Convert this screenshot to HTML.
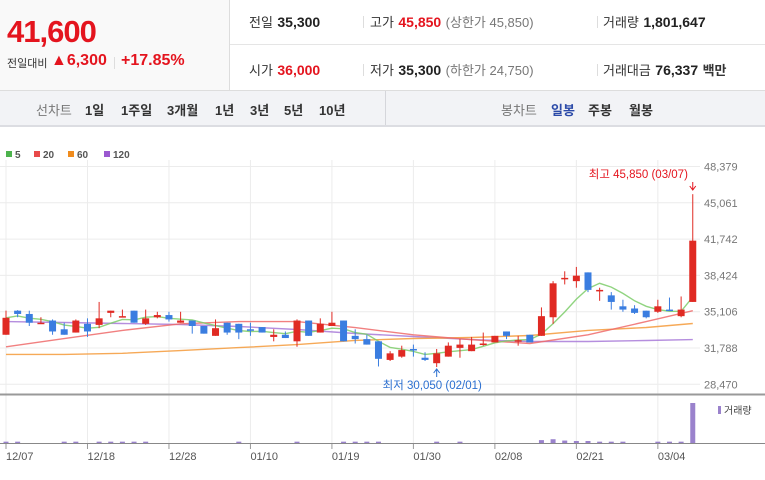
<!DOCTYPE html>
<html><head><meta charset="utf-8">
<style>
body{margin:0;width:765px;height:480px;overflow:hidden;background:#fff;font-family:"Liberation Sans","Noto Sans CJK KR",sans-serif;position:relative}
.a{position:absolute;white-space:nowrap}
.lb{color:#333;font-size:13px}
.v{color:#222;font-size:14px;font-weight:bold}
.r{color:#e4141e}
.g{color:#777;font-size:13px}
.sep{position:absolute;width:1px;height:12px;background:#ddd}
.nav{font-size:13px;color:#333;font-weight:bold}
</style></head><body>
<div class="a" style="left:0;top:0;width:229px;height:90px;background:#f9f9f9;border-right:1px solid #ddd;border-bottom:1px solid #ddd"></div>
<div class="a r" style="left:7px;top:14px;font-size:31px;font-weight:bold;letter-spacing:-1px">41,600</div>
<div class="a" style="left:7px;top:55px;font-size:11px;color:#333">전일대비</div>
<div class="a r" style="left:51px;top:52px;font-size:16px;font-weight:bold">▲6,300</div>
<div class="sep" style="left:114px;top:57px"></div>
<div class="a r" style="left:121px;top:52px;font-size:16px;font-weight:bold">+17.85%</div>
<div class="a" style="left:230px;top:44px;width:535px;height:1px;background:#e5e5e5"></div>
<div class="a" style="left:230px;top:90px;width:535px;height:1px;background:#ddd"></div>

<div class="a" style="left:249px;top:12px"><span class="lb">전일</span> <span class="v">35,300</span></div>
<div class="sep" style="left:363px;top:16px"></div>
<div class="a" style="left:370px;top:12px"><span class="lb">고가</span> <span class="v r">45,850</span> <span class="g">(상한가 45,850)</span></div>
<div class="sep" style="left:597px;top:16px"></div>
<div class="a" style="left:603px;top:12px"><span class="lb">거래량</span> <span class="v">1,801,647</span></div>
<div class="a" style="left:249px;top:60px"><span class="lb">시가</span> <span class="v r">36,000</span></div>
<div class="sep" style="left:363px;top:64px"></div>
<div class="a" style="left:370px;top:60px"><span class="lb">저가</span> <span class="v">35,300</span> <span class="g">(하한가 24,750)</span></div>
<div class="sep" style="left:597px;top:64px"></div>
<div class="a" style="left:603px;top:60px"><span class="lb">거래대금</span> <span class="v">76,337</span> <span class="lb" style="font-weight:bold">백만</span></div>

<div class="a" style="left:0;top:91px;width:765px;height:34px;background:#f2f3f6;border-bottom:2px solid #dcdde2"></div>
<div class="a" style="left:385px;top:91px;width:1px;height:34px;background:#d5d6db"></div>
<div class="a nav" style="left:36px;top:100px;color:#777;font-weight:normal">선차트</div>
<div class="a nav" style="left:85px;top:100px">1일</div>
<div class="a nav" style="left:121px;top:100px">1주일</div>
<div class="a nav" style="left:167px;top:100px">3개월</div>
<div class="a nav" style="left:215px;top:100px">1년</div>
<div class="a nav" style="left:250px;top:100px">3년</div>
<div class="a nav" style="left:284px;top:100px">5년</div>
<div class="a nav" style="left:319px;top:100px">10년</div>
<div class="a nav" style="left:501px;top:100px;color:#777;font-weight:normal">봉차트</div>
<div class="a nav" style="left:551px;top:100px;color:#2b4aa8">일봉</div>
<div class="a nav" style="left:588px;top:100px">주봉</div>
<div class="a nav" style="left:629px;top:100px">월봉</div>

<svg class="a" style="left:0;top:0" width="765" height="480" id="chart"></svg>
<script>
const dates=["12/07","12/18","12/28","01/10","01/19","01/30","02/08","02/21","03/04"];
const opens=[33000,35200,34900,34000,34300,33500,33200,34000,33900,35000,34600,35200,34000,34600,34800,34100,34300,33800,32900,34100,34000,33500,33700,32800,33000,32400,34300,33200,33800,34300,32900,32600,32400,30700,31000,31700,30900,30400,31000,31800,31500,32100,32300,33300,32400,33000,32900,34600,38100,37900,38700,37000,36600,35600,35400,35200,35100,35300,34700,36000];
const closes=[34550,34900,34100,34100,33300,33000,34300,33300,34500,35200,34700,34100,34500,34800,34400,34300,33800,33100,33600,33200,33200,33400,33200,33000,32700,34300,32900,34000,34100,32400,32600,32100,30800,31300,31600,31600,30700,31300,32000,32100,32100,32200,32900,32900,32500,32300,34700,37700,38200,38400,37100,37100,36000,35300,35000,34600,35600,35200,35300,41600];
const highs=[35200,35250,35200,34600,34400,34100,34400,34500,36000,35200,35300,35200,35300,35100,35100,35100,34300,33800,34400,34100,34000,34100,33700,33500,33300,34400,34300,34500,35100,34300,33500,33000,32400,31500,32000,32100,31400,31700,32300,32600,32800,33200,32900,33300,32900,33000,35500,37900,38800,39200,38700,37300,36900,36200,35700,35200,36200,36400,36500,45850];
const lows=[33000,34600,33800,34000,33000,33000,33200,32800,33600,34600,34600,34100,33900,34500,34200,34100,33100,33100,32900,33000,32600,32900,33200,32400,32700,31900,32900,33200,33800,32400,32200,32100,30100,30600,30900,31000,30600,30050,31000,30900,31500,32000,32300,32600,32000,32300,32900,34000,37600,37300,36900,36100,35300,35100,34900,34500,35000,35200,34600,36000];
const volumes=[60000,60000,0,0,0,60000,60000,0,60000,60000,60000,60000,60000,0,0,0,0,0,0,0,60000,0,0,0,0,60000,0,0,0,60000,60000,60000,60000,0,0,0,0,60000,0,60000,0,0,0,0,0,0,130000,170000,110000,90000,90000,60000,60000,60000,0,0,60000,60000,60000,1801647];
const maIdx=[0,5,10,15,20,25,30,35,40,45,50,55,59];
const ma20=[31900,32650,33400,34000,34200,34200,33650,33000,32550,32200,33000,34200,35200];
const ma60=[31200,31200,31300,31550,31830,32100,32480,32660,32750,32930,33400,33660,34030];
const ma120=[34200,34120,34030,33940,33750,33480,33110,32840,32560,32380,32380,32470,32560];
const yTicks=[48379,45061,41742,38424,35106,31788,28470];

const svg=document.getElementById('chart');const NS='http://www.w3.org/2000/svg';
function el(t,a){const e=document.createElementNS(NS,t);for(const k in a)e.setAttribute(k,a[k]);svg.appendChild(e);return e;}
const X=i=>6+i*11.64;
const Y=p=>166.5+(48379-p)*(36.3/3318);
const VB=443,VY=v=>VB-v/1801647*40;
// gridlines
yTicks.forEach(t=>{const l=el('line',{x1:0,x2:700,y1:Y(t),y2:Y(t),stroke:'#ececec'});

const tx=el('text',{x:704,y:Y(t)+4,'font-size':11,fill:'#777'});tx.textContent=t.toLocaleString('en-US');
});
dates.forEach((d,k)=>{const x=X(k*7);const l=el('line',{x1:x,x2:x,y1:160,y2:443,stroke:'#ececec'});

el('line',{x1:x,x2:x,y1:443,y2:449,stroke:'#999'});
const t=el('text',{x:x,y:460,'font-size':11,fill:'#555'});t.textContent=d;
});
el('line',{x1:0,x2:765,y1:394.5,y2:394.5,stroke:'#999','stroke-width':2});
el('line',{x1:0,x2:765,y1:443.5,y2:443.5,stroke:'#888'});
// legend
[['5','#4db34d'],['20','#e84a4a'],['60','#f08c1e'],['120','#9b59d0']].forEach((l,k)=>{const x=[6,34,68,104][k];
const r=el('rect',{x:x,y:151,width:6,height:6,fill:l[1]});
const t=el('text',{x:x+9,y:158,'font-size':10,fill:'#555','font-weight':'bold'});t.textContent=l[0];
});
// MAs
function line(idx,vals,color,name){const d=vals.map((v,k)=>(k?'L':'M')+X(idx[k]).toFixed(1)+' '+Y(v).toFixed(1)).join(' ');
const p=el('path',{d:d,fill:'none',stroke:color,'stroke-width':1.4,opacity:0.85});}
line(maIdx,ma120,'#a87ad8','ma120-line');
line(maIdx,ma60,'#f59a3a','ma60-line');
line(maIdx,ma20,'#ee6a6a','ma20-line');
const ma5=closes.map((c,i)=>{const s=closes.slice(Math.max(0,i-4),i+1);return s.reduce((a,b)=>a+b,0)/s.length;});
line(closes.map((c,i)=>i),ma5,'#7ccd6a','ma5-line');
// candles
closes.forEach((c,i)=>{const o=opens[i],up=c>=o,col=up?'#e02a23':'#3a7de0',x=X(i);
const w=el('line',{x1:x,x2:x,y1:Y(highs[i]),y2:Y(lows[i]),stroke:col,'stroke-width':1});

const t=Y(Math.max(o,c)),b=Y(Math.min(o,c));
const r=el('rect',{x:x-3.5,y:t,width:7,height:Math.max(1.5,b-t),fill:col});

const v=volumes[i];if(v>0){const vb=el('rect',{x:x-2.5,y:VY(v),width:5,height:VB-VY(v),fill:'#9a82cc'});
}});
// annotations
const hiI=highs.indexOf(Math.max(...highs)),loI=lows.indexOf(Math.min(...lows));
const ht=el('text',{x:X(hiI)-104,y:178,'font-size':11.5,fill:'#e4141e'});ht.textContent='최고 45,850 (03/07)';

el('path',{d:`M${X(hiI)} 182 V190 M${X(hiI)-3} 186 L${X(hiI)} 190 L${X(hiI)+3} 186`,stroke:'#e4141e',fill:'none'});
const lt=el('text',{x:X(loI)-54,y:389,'font-size':11.5,fill:'#2b6fd0'});lt.textContent='최저 30,050 (02/01)';

el('path',{d:`M${X(loI)} 377 V369 M${X(loI)-3} 373 L${X(loI)} 369 L${X(loI)+3} 373`,stroke:'#2b6fd0',fill:'none'});
const vr=el('rect',{x:718,y:406,width:3,height:8,fill:'#9a82cc'});
const vl=el('text',{x:724,y:414,'font-size':10,fill:'#444'});vl.textContent='거래량';

</script>
</body></html>
